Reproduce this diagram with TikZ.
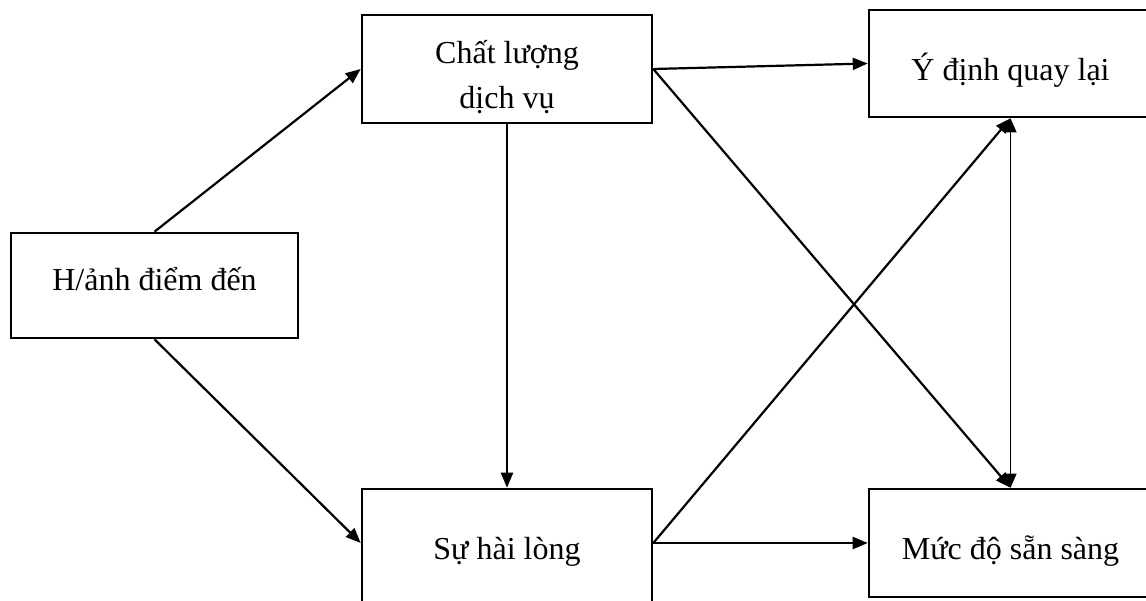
\documentclass[tikz,border=0pt]{standalone}
\usepackage{fontspec}
\setmainfont{Liberation Serif}
\usetikzlibrary{arrows.meta,calc}
\tikzset{
  box/.style={draw, line width=2.6pt, inner sep=0pt, align=center,
    font=\fontsize{32}{45}\selectfont},
  conn/.style={line width=2.2pt, -{Triangle[length=15pt,width=12pt]}},
  thinconn/.style={line width=1pt, {Triangle[length=14pt,width=12pt]}-{Triangle[length=14pt,width=12pt]}}
}
\begin{document}
\begin{tikzpicture}[x=1pt,y=-1pt]
\useasboundingbox (0,0) rectangle (1146,600);
\clip (0,0) rectangle (1146,600);
\fill[white] (0,0) rectangle (1146,600);
\node[box, minimum width=287pt, minimum height=105pt, text height=22pt, text depth=13pt] (A) at (154.5,285.5) {H/ảnh điểm đến};
\node[box, minimum width=290pt, minimum height=108pt, text height=80pt, text depth=2pt] (B) at (507,69) {Chất lượng\\dịch vụ};
\node[box, minimum width=283pt, minimum height=107pt, text height=38pt, text depth=5pt] (C) at (1010.5,63.5) {Ý định quay lại};
\node[box, minimum width=290pt, minimum height=117pt, text height=30pt, text depth=7pt] (D) at (507,547.5) {Sự hài lòng};
\node[box, minimum width=283pt, minimum height=108pt, text height=37pt, text depth=5pt] (E) at (1010.5,543) {Mức độ sẵn sàng};
\coordinate (De) at ($(D.east)+(0,-4.5)$);
\coordinate (Dw) at ($(D.west)+(0,-4.5)$);
\draw[conn] (A.north) -- (B.west);
\draw[conn] (A.south) -- (Dw);
\draw[conn] (B.south) -- (D.north);
\draw[conn] (B.east) -- (C.west);
\draw[conn] (B.east) -- (E.north);
\draw[conn] (De) -- (C.south);
\draw[conn] (De) -- (E.west);
\draw[thinconn] (C.south) -- (E.north);
\end{tikzpicture}
\end{document}
